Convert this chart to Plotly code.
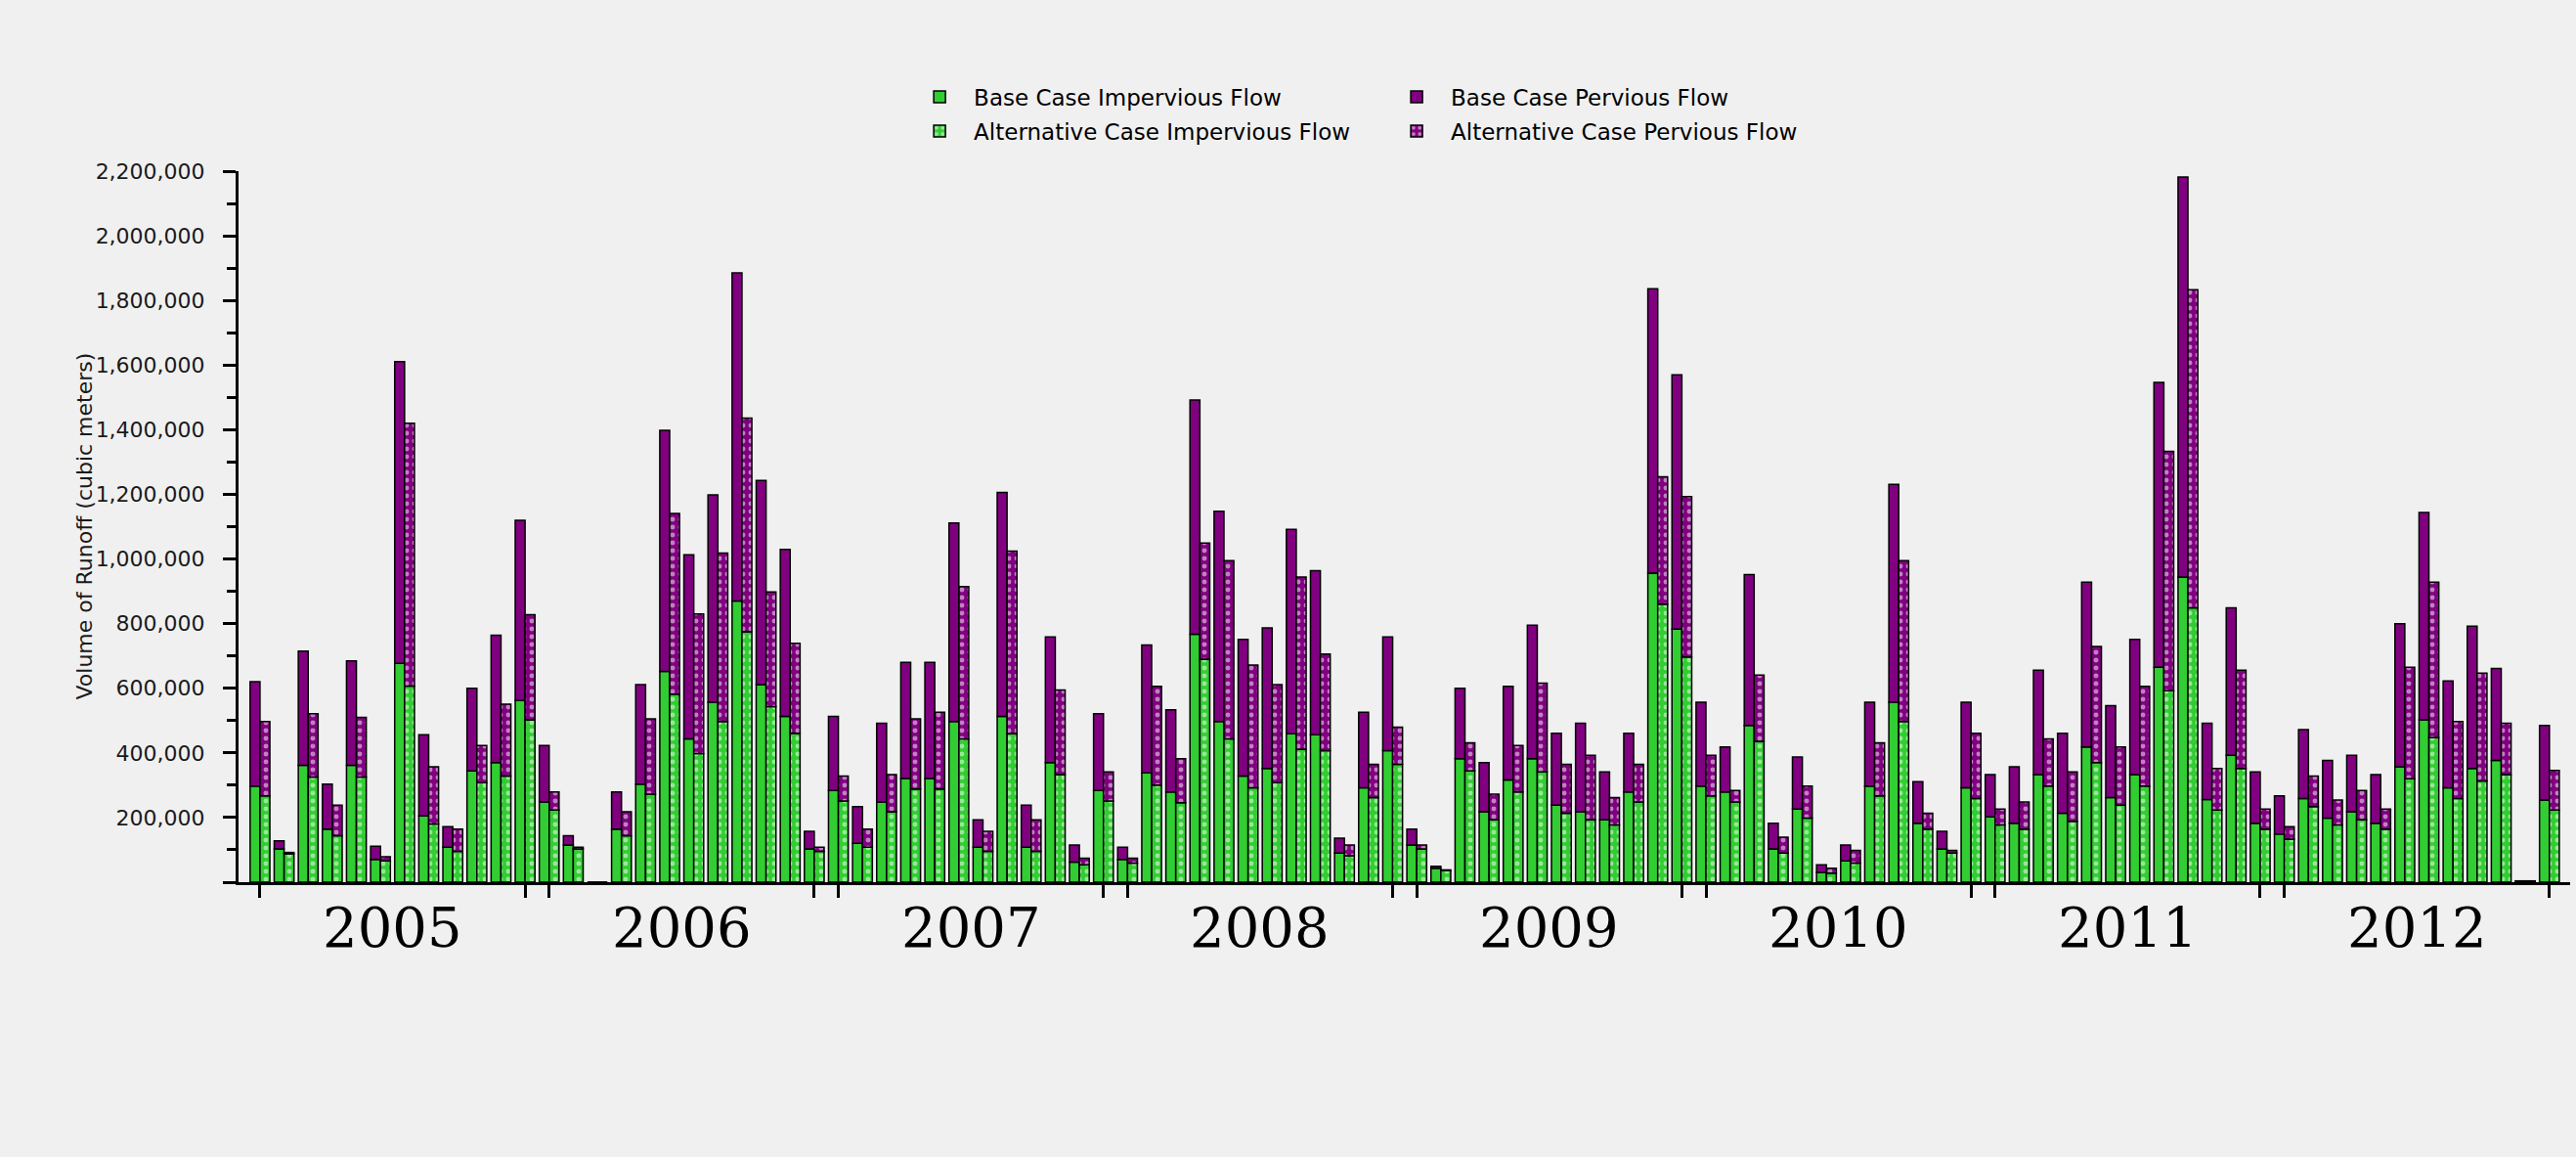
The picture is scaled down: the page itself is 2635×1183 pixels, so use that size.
import plotly.graph_objects as go

# ---- data (cubic meters) ----
years = ["2005", "2006", "2007", "2008", "2009", "2010", "2011", "2012"]
months_per_year = 12

base_total = [
    620000, 128000, 715000, 303000, 685000, 111000, 1611000, 456000, 172000, 600000, 764000, 1120000,
    423000, 144000, 0, 279000, 611000, 1398000, 1013000, 1198000, 1885000, 1243000, 1030000, 157000,
    513000, 234000, 492000, 680000, 680000, 1111000, 193000, 1206000, 238000, 759000, 115000, 521000,
    108000, 734000, 533000, 1492000, 1148000, 751000, 787000, 1092000, 964000, 136000, 526000, 759000,
    164000, 49000, 600000, 370000, 606000, 795000, 461000, 492000, 341000, 461000, 1836000, 1570000,
    557000, 418000, 952000, 182000, 387000, 54000, 115000, 557000, 1231000, 311000, 157000, 557000,
    333000, 357000, 656000, 461000, 928000, 546000, 751000, 1546000, 2182000, 492000, 849000, 341000,
    267000, 472000, 377000, 393000, 333000, 800000, 1144000, 623000, 792000, 661000, 4000, 485000,
]
base_imperv = [
    297000, 103000, 362000, 164000, 362000, 70000, 677000, 205000, 108000, 344000, 370000, 562000,
    248000, 115000, 0, 164000, 303000, 652000, 443000, 557000, 870000, 611000, 513000, 103000,
    284000, 120000, 248000, 321000, 321000, 497000, 108000, 513000, 108000, 370000, 62000, 284000,
    70000, 338000, 279000, 767000, 497000, 328000, 352000, 459000, 456000, 90000, 292000, 407000,
    115000, 43000, 382000, 218000, 316000, 382000, 238000, 218000, 193000, 279000, 956000, 783000,
    297000, 279000, 485000, 103000, 226000, 30000, 66000, 297000, 557000, 182000, 103000, 292000,
    202000, 182000, 333000, 213000, 418000, 262000, 333000, 665000, 944000, 256000, 393000, 182000,
    149000, 259000, 198000, 218000, 182000, 357000, 502000, 292000, 352000, 377000, 3000, 254000,
]
alt_total = [
    497000, 92000, 521000, 238000, 510000, 79000, 1420000, 357000, 164000, 423000, 551000, 828000,
    279000, 108000, 0, 218000, 505000, 1141000, 830000, 1018000, 1436000, 898000, 739000, 108000,
    328000, 164000, 333000, 505000, 526000, 915000, 157000, 1024000, 193000, 595000, 74000, 341000,
    74000, 606000, 382000, 1049000, 995000, 672000, 611000, 944000, 706000, 115000, 365000, 480000,
    115000, 38000, 431000, 272000, 423000, 616000, 365000, 393000, 262000, 365000, 1254000, 1193000,
    393000, 284000, 641000, 139000, 297000, 43000, 98000, 431000, 995000, 213000, 98000, 461000,
    226000, 248000, 443000, 341000, 729000, 418000, 606000, 1333000, 1833000, 352000, 656000, 226000,
    172000, 328000, 254000, 284000, 226000, 665000, 928000, 497000, 647000, 492000, 4000, 346000,
]
alt_imperv = [
    267000, 88000, 325000, 144000, 325000, 66000, 607000, 180000, 95000, 308000, 328000, 502000,
    223000, 103000, 0, 144000, 272000, 582000, 398000, 497000, 775000, 543000, 461000, 95000,
    251000, 108000, 218000, 288000, 288000, 443000, 95000, 459000, 95000, 333000, 54000, 251000,
    59000, 300000, 246000, 690000, 443000, 292000, 308000, 411000, 407000, 82000, 262000, 365000,
    103000, 36000, 344000, 193000, 279000, 341000, 213000, 193000, 177000, 248000, 860000, 697000,
    267000, 248000, 436000, 90000, 198000, 28000, 59000, 267000, 497000, 164000, 90000, 259000,
    177000, 164000, 297000, 188000, 370000, 238000, 297000, 592000, 849000, 223000, 352000, 164000,
    133000, 234000, 177000, 193000, 164000, 320000, 447000, 259000, 313000, 333000, 3000, 223000,
]

y_tickvals = [0, 200000, 400000, 600000, 800000, 1000000, 1200000, 1400000,
              1600000, 1800000, 2000000, 2200000]
y_ticktext = ["", "200,000", "400,000", "600,000", "800,000", "1,000,000", "1,200,000",
              "1,400,000", "1,600,000", "1,800,000", "2,000,000", "2,200,000"]

series_names = ["Base Case Impervious Flow", "Base Case Pervious Flow",
                "Alternative Case Impervious Flow", "Alternative Case Pervious Flow"]

GREEN = "#32CD32"
PURPLE = "#800080"
BG = "#f0f0f0"

n = len(base_total)
x = list(range(n))
base_perv = [t - i for t, i in zip(base_total, base_imperv)]
alt_perv = [t - i for t, i in zip(alt_total, alt_imperv)]

line = dict(color="black", width=1.5)
pat_g = dict(shape=".", fgcolor="white", bgcolor=GREEN, size=8, solidity=0.3, fillmode="overlay")
pat_p = dict(shape=".", fgcolor="white", bgcolor=PURPLE, size=8, solidity=0.3, fillmode="overlay")

fig = go.Figure()
fig.add_trace(go.Bar(x=x, y=base_imperv, name=series_names[0], offsetgroup="base",
                     marker=dict(color=GREEN, line=line), legend="legend"))
fig.add_trace(go.Bar(x=x, y=base_perv, base=base_imperv, name=series_names[1], offsetgroup="base",
                     marker=dict(color=PURPLE, line=line), legend="legend2"))
fig.add_trace(go.Bar(x=x, y=alt_imperv, name=series_names[2], offsetgroup="alt",
                     marker=dict(color=GREEN, line=line, pattern=pat_g), legend="legend3"))
fig.add_trace(go.Bar(x=x, y=alt_perv, base=alt_imperv, name=series_names[3], offsetgroup="alt",
                     marker=dict(color=PURPLE, line=line, pattern=pat_p), legend="legend4"))

# year bracket ticks: first and last month of each year
xt = []
for k in range(len(years)):
    xt += [k * months_per_year, k * months_per_year + months_per_year - 1]

annotations = []
for k, yr in enumerate(years):
    annotations.append(dict(
        x=k * months_per_year + (months_per_year - 1) / 2, y=0, xref="x", yref="paper",
        text=yr, showarrow=False, yanchor="middle", yshift=-46,
        font=dict(family="DejaVu Serif", size=56, color="black")))
annotations.append(dict(
    x=0, y=0.5, xref="paper", yref="paper", text="Volume of Runoff (cubic meters)",
    textangle=-90, showarrow=False, xanchor="center", yanchor="middle", xshift=-158,
    font=dict(family="DejaVu Sans", size=22, color="#1a1a1a")))

legend_font = dict(family="DejaVu Sans", size=23, color="black")
leg_common = dict(orientation="v", xanchor="left", yanchor="middle", bgcolor="rgba(0,0,0,0)",
                  font=legend_font, itemwidth=60, itemclick=False)

fig.update_layout(
    width=2635, height=1183,
    margin=dict(l=244, r=6, t=175, b=281),
    paper_bgcolor=BG, plot_bgcolor=BG,
    barmode="group", bargap=0.18, bargroupgap=0.0,
    showlegend=True,
    legend=dict(x=0.286, y=1.1045, **leg_common),
    legend2=dict(x=0.4906, y=1.1045, **leg_common),
    legend3=dict(x=0.286, y=1.0564, **leg_common),
    legend4=dict(x=0.4906, y=1.0564, **leg_common),
    annotations=annotations,
    xaxis=dict(range=[-0.89, 95.86], tickvals=xt, ticktext=[""] * len(xt),
               ticks="outside", ticklen=13, tickwidth=3, tickcolor="black",
               showline=True, linewidth=3, linecolor="black", showgrid=False, zeroline=False),
    yaxis=dict(range=[0, 2200000], tickvals=y_tickvals, ticktext=y_ticktext,
               ticks="outside", ticklen=13, tickwidth=3, tickcolor="black",
               showline=True, linewidth=3, linecolor="black", showgrid=False, zeroline=False,
               ticklabelstandoff=14,
               tickfont=dict(family="DejaVu Sans", size=22, color="#1a1a1a"),
               minor=dict(ticks="outside", ticklen=9, tickwidth=3, tickcolor="black",
                          dtick=100000, tick0=0, showgrid=False)),
)

fig.write_html("out.html")
